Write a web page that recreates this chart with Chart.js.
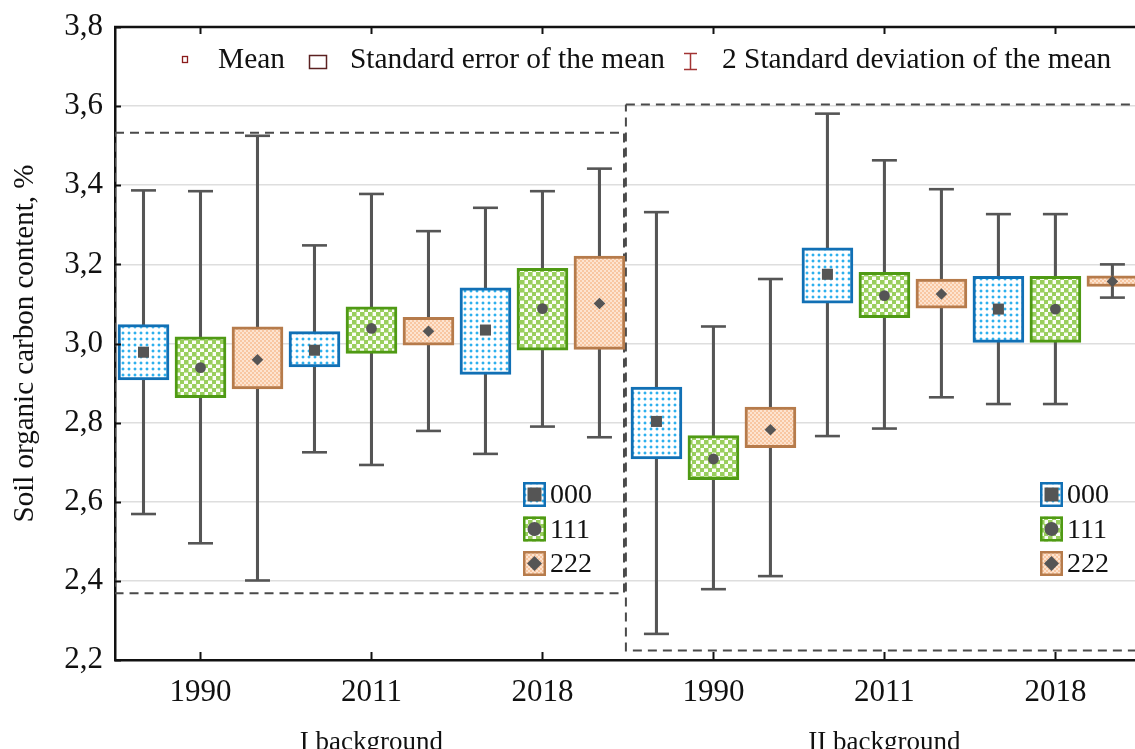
<!DOCTYPE html>
<html>
<head>
<meta charset="utf-8">
<script src="https://cdn.jsdelivr.net/npm/chart.js@4.4.1/dist/chart.umd.min.js"></script>
<style>
html,body{margin:0;padding:0;overflow:hidden;background:#fff;width:1135px;height:749px;}
#wrap{position:absolute;left:0;top:0;width:1156px;height:760px;}
canvas{display:block;}
</style>
</head>
<body>
<div id="wrap"><canvas id="c" width="1156" height="760"></canvas></div>
<script>
// ---------------- data ----------------
const yearLabels = ['1990', '2011', '2018', '1990', '2011', '2018'];
const backgroundLabels = ['I background', 'II background'];
const groupPositions = [1, 2, 3, 4, 5, 6];
const backgroundCenters = [2, 5];
const seriesNames = ['000', '111', '222'];
const statLegendLabels = ['Mean', 'Standard error of the mean', '2 Standard deviation of the mean'];
const yTickLabels = ['2,2', '2,4', '2,6', '2,8', '3,0', '3,2', '3,4', '3,6', '3,8'];
const yAxisTitle = 'Soil organic carbon content, %';

// series 000
const mean000   = [2.978, 2.983, 3.034, 2.803, 3.175, 3.087];
const seLow000  = [2.908, 2.941, 2.922, 2.708, 3.102, 3.003];
const seHigh000 = [3.048, 3.030, 3.141, 2.890, 3.242, 3.170];
const sdLow000  = [2.569, 2.725, 2.721, 2.266, 2.766, 2.847];
const sdHigh000 = [3.387, 3.248, 3.343, 3.332, 3.581, 3.327];
// series 111
const mean111   = [2.939, 3.038, 3.088, 2.708, 3.121, 3.087];
const seLow111  = [2.863, 2.975, 2.983, 2.656, 3.065, 3.003];
const seHigh111 = [3.017, 3.093, 3.190, 2.767, 3.180, 3.170];
const sdLow111  = [2.495, 2.693, 2.790, 2.379, 2.785, 2.847];
const sdHigh111 = [3.385, 3.378, 3.385, 3.043, 3.463, 3.327];
// series 222
const mean222   = [2.959, 3.031, 3.101, 2.782, 3.125, 3.157];
const seLow222  = [2.885, 2.996, 2.985, 2.737, 3.089, 3.144];
const seHigh222 = [3.042, 3.066, 3.221, 2.839, 3.163, 3.171];
const sdLow222  = [2.401, 2.779, 2.763, 2.412, 2.864, 3.116];
const sdHigh222 = [3.525, 3.284, 3.442, 3.163, 3.390, 3.200];

// dashed regions: [xFrom, xTo, yLow, yHigh] (x in group units)
const regionI  = [0.5, 3.477, 2.369, 3.533];
const regionII = [3.488, 6.5, 2.224, 3.604];

// ---------------- styling ----------------
const FONT = "'Liberation Serif','Times New Roman',serif";
const canvas = document.getElementById('c');
const mainCtx = canvas.getContext('2d');

function makePattern(kind) {
  const t = document.createElement('canvas');
  const c = t.getContext('2d');
  if (kind === 'dots') {
    t.width = 6; t.height = 6;
    c.fillStyle = '#ffffff'; c.fillRect(0, 0, 6, 6);
    c.fillStyle = '#bfe6f9';
    c.fillRect(2, 1, 2, 1); c.fillRect(2, 4, 2, 1); c.fillRect(1, 2, 1, 2); c.fillRect(4, 2, 1, 2);
    c.fillStyle = '#2db0ee'; c.fillRect(2, 2, 2, 2);
  } else if (kind === 'check') {
    t.width = 8; t.height = 8;
    c.fillStyle = '#fbfdf7'; c.fillRect(0, 0, 8, 8);
    c.fillStyle = '#99ce5d'; c.fillRect(0, 0, 4, 4); c.fillRect(4, 4, 4, 4);
    c.fillStyle = '#c4e39f'; c.fillRect(4, 0, 1, 4); c.fillRect(0, 4, 4, 1);
  } else {
    t.width = 4; t.height = 4;
    c.fillStyle = '#fde4d0'; c.fillRect(0, 0, 4, 4);
    c.fillStyle = '#f8c7a2'; c.fillRect(0, 0, 2, 2); c.fillRect(2, 2, 2, 2);
  }
  return mainCtx.createPattern(t, 'repeat');
}

const series = [
  { name: seriesNames[0], means: mean000, seLow: seLow000, seHigh: seHigh000, sdLow: sdLow000, sdHigh: sdHigh000,
    border: '#1170b5', fill: makePattern('dots'), style: 'rect', radius: 7.8 },
  { name: seriesNames[1], means: mean111, seLow: seLow111, seHigh: seHigh111, sdLow: sdLow111, sdHigh: sdHigh111,
    border: '#4f9a14', fill: makePattern('check'), style: 'circle', radius: 5.4 },
  { name: seriesNames[2], means: mean222, seLow: seLow222, seHigh: seHigh222, sdLow: sdLow222, sdHigh: sdHigh222,
    border: '#b67b4b', fill: makePattern('peach'), style: 'rectRot', radius: 5.8 }
];
const offsets = [-1 / 3, 0, 1 / 3];
const MARK = '#555555';

const datasets = [];
[regionI, regionII].forEach(r => {
  datasets.push({
    type: 'line',
    data: [{x: r[0], y: r[3]}, {x: r[1], y: r[3]}, {x: r[1], y: r[2]}, {x: r[0], y: r[2]}, {x: r[0], y: r[3]}],
    borderColor: '#4a4a4a', borderWidth: 2, borderDash: [9, 6], pointRadius: 0, fill: false, tension: 0, order: 6
  });
});
series.forEach((s, k) => {
  const xs = groupPositions.map(g => g + offsets[k]);
  datasets.push({
    type: 'bar', label: s.name + ' sd',
    data: xs.map((x, i) => ({x: x, y: [s.sdLow[i], s.sdHigh[i]]})),
    backgroundColor: MARK, borderWidth: 0, grouped: false,
    barThickness: 2.4, maxBarThickness: 2.4, order: 5
  });
  datasets.push({
    type: 'scatter', label: s.name + ' caps',
    data: xs.map((x, i) => ({x: x, y: s.sdLow[i]})).concat(xs.map((x, i) => ({x: x, y: s.sdHigh[i]}))),
    pointStyle: 'line', pointRadius: 12.5, pointBorderWidth: 2.6, pointBorderColor: MARK, order: 4
  });
  datasets.push({
    type: 'bar', label: s.name,
    data: xs.map((x, i) => ({x: x, y: [s.seLow[i], s.seHigh[i]]})),
    backgroundColor: s.fill, borderColor: s.border, borderWidth: 3, borderSkipped: false,
    grouped: false, barThickness: 51, maxBarThickness: 51, order: 3
  });
  datasets.push({
    type: 'scatter', label: s.name + ' mean',
    data: xs.map((x, i) => ({x: x, y: s.means[i]})),
    pointStyle: s.style, pointRadius: s.radius, pointBackgroundColor: MARK, pointBorderWidth: 0, order: 1
  });
});

function drawMarker(ctx, style, x, y, size) {
  ctx.fillStyle = MARK;
  ctx.beginPath();
  if (style === 'rect') ctx.rect(x - size / 2, y - size / 2, size, size);
  else if (style === 'circle') ctx.arc(x, y, size / 2, 0, Math.PI * 2);
  else { ctx.moveTo(x - size / 2, y); ctx.lineTo(x, y - size / 2); ctx.lineTo(x + size / 2, y); ctx.lineTo(x, y + size / 2); ctx.closePath(); }
  ctx.fill();
}

const decorPlugin = {
  id: 'decor',
  afterDraw(chart) {
    const ctx = chart.ctx;
    const a = chart.chartArea;
    const xs = chart.scales.x, ys = chart.scales.y;
    ctx.save();
    // top border
    ctx.strokeStyle = '#111'; ctx.lineWidth = 2.5;
    ctx.beginPath(); ctx.moveTo(a.left - 1, a.top); ctx.lineTo(a.right, a.top); ctx.stroke();
    // inward tick marks
    ctx.lineWidth = 2;
    groupPositions.forEach(g => {
      const px = Math.round(xs.getPixelForValue(g)) + 0.5;
      ctx.beginPath(); ctx.moveTo(px, a.bottom); ctx.lineTo(px, a.bottom - 8); ctx.stroke();
      ctx.beginPath(); ctx.moveTo(px, a.top); ctx.lineTo(px, a.top + 7); ctx.stroke();
    });
    ys.ticks.forEach(t => {
      const py = Math.round(ys.getPixelForValue(t.value)) + 0.5;
      ctx.beginPath(); ctx.moveTo(a.left, py); ctx.lineTo(a.left + 6, py); ctx.stroke();
    });
    // top statistics legend
    ctx.fillStyle = '#111';
    ctx.font = '29.4px ' + FONT;
    ctx.textBaseline = 'alphabetic';
    ctx.textAlign = 'left';
    ctx.strokeStyle = '#8b1c1c'; ctx.lineWidth = 1.3;
    ctx.strokeRect(182.5, 56.5, 5, 6);
    ctx.fillText(statLegendLabels[0], 218, 68);
    ctx.strokeStyle = '#5b2121'; ctx.lineWidth = 1.5;
    ctx.strokeRect(309.5, 55.5, 17, 13);
    ctx.fillText(statLegendLabels[1], 350, 68);
    ctx.strokeStyle = '#a23434'; ctx.lineWidth = 1.5;
    ctx.beginPath();
    ctx.moveTo(684, 53.5); ctx.lineTo(697, 53.5);
    ctx.moveTo(684, 69.5); ctx.lineTo(697, 69.5);
    ctx.moveTo(690.5, 53.5); ctx.lineTo(690.5, 69.5);
    ctx.stroke();
    ctx.fillText(statLegendLabels[2], 722, 68);
    // series legends (two copies)
    const legendX = [523, 1040];
    const baselines = [503, 537.5, 572];
    ctx.font = '28px ' + FONT;
    legendX.forEach(lx => {
      series.forEach((s, k) => {
        const cy = baselines[k] - 8.5;
        const w = 23, h = 25;
        ctx.fillStyle = s.fill;
        ctx.fillRect(lx, cy - h / 2, w, h);
        ctx.strokeStyle = s.border; ctx.lineWidth = 2.5;
        ctx.strokeRect(lx + 1.25, cy - h / 2 + 1.25, w - 2.5, h - 2.5);
        drawMarker(ctx, s.style, lx + w / 2, cy, s.style === 'rect' ? 14 : (s.style === 'circle' ? 14 : 15));
        ctx.fillStyle = '#111';
        ctx.fillText(s.name, lx + w + 4, baselines[k]);
      });
    });
    ctx.restore();
  }
};

Chart.defaults.font.family = FONT;
Chart.defaults.color = '#111';

const zeroPadding = sc => { sc.paddingLeft = 0; sc.paddingRight = 0; sc.paddingTop = 0; sc.paddingBottom = 0; };

new Chart(canvas, {
  type: 'bar',
  data: { datasets: datasets },
  plugins: [decorPlugin],
  options: {
    responsive: false,
    animation: false,
    devicePixelRatio: 1,
    events: [],
    layout: { padding: { top: 27, right: 3, bottom: 0, left: 0 } },
    plugins: { legend: { display: false }, tooltip: { enabled: false } },
    scales: {
      x: {
        type: 'linear', position: 'bottom', min: 0.5, max: 6.5, offset: false,
        grid: { display: false, offset: false },
        border: { display: true, color: '#111', width: 2.5 },
        afterBuildTicks: sc => { sc.ticks = groupPositions.map(v => ({ value: v })); },
        afterFit: sc => { sc.height = 52; zeroPadding(sc); },
        ticks: {
          autoSkip: false, maxRotation: 0, padding: 6, color: '#111',
          font: { size: 31, family: FONT },
          callback: (v, i) => yearLabels[i]
        }
      },
      x2: {
        type: 'linear', position: 'bottom', min: 0.5, max: 6.5, offset: false,
        grid: { display: false }, border: { display: false },
        afterBuildTicks: sc => { sc.ticks = backgroundCenters.map(v => ({ value: v })); },
        afterFit: sc => { sc.height = 48; zeroPadding(sc); },
        ticks: {
          autoSkip: false, maxRotation: 0, padding: 7, color: '#111',
          font: { size: 27, family: FONT },
          callback: (v, i) => backgroundLabels[i]
        }
      },
      y: {
        type: 'linear', min: 2.2, max: 3.8, beginAtZero: false,
        afterBuildTicks: sc => { sc.ticks = yTickLabels.map((l, i) => ({ value: 2.2 + i * 0.2 })); },
        afterFit: sc => { sc.width = 115; zeroPadding(sc); },
        grid: { color: '#dedede', lineWidth: 1.5, drawTicks: false },
        border: { display: true, color: '#111', width: 2.5 },
        ticks: {
          padding: 12, color: '#111', font: { size: 31, family: FONT },
          callback: (v, i) => yTickLabels[i]
        },
        title: {
          display: true, text: yAxisTitle, color: '#111',
          font: { size: 29, family: FONT }, padding: { top: 8, bottom: 0 }
        }
      }
    }
  }
});
</script>
</body>
</html>
